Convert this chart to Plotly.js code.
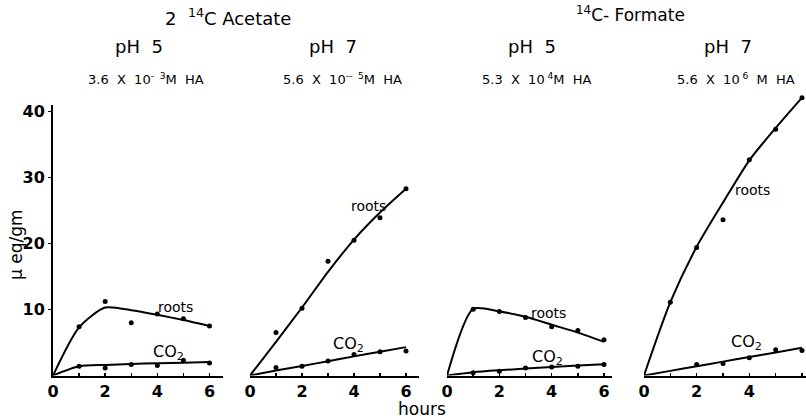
<!DOCTYPE html>
<html>
<head>
<meta charset="utf-8">
<script src="https://cdn.plot.ly/plotly-3.0.1.min.js"></script>
<style>html,body{margin:0;padding:0;background:#fff;}#chart{width:806px;height:419px;}</style>
</head>
<body>
<div id="chart"></div>
<script>
// ---- data ----
const hours = [0, 1, 2, 3, 4, 5, 6];
const obsHours = [1, 2, 3, 4, 5, 6];

// Panel 1: 2-14C Acetate, pH 5
const p1RootsObs = [7.4, 11.2, 8.0, 9.3, 8.6, 7.5];
const p1RootsFit = [0, 7.3, 10.3, 9.9, 9.2, 8.4, 7.5];
const p1CO2Obs = [1.4, 1.15, 1.65, 1.5, 2.3, 1.9];
const p1CO2Fit = [0, 1.4, 1.6, 1.75, 1.85, 1.95, 2.05];

// Panel 2: Acetate, pH 7
const p2RootsObs = [6.5, 10.2, 17.3, 20.5, 23.9, 28.3];
const p2RootsFit = [0, 5.1, 10.3, 15.7, 20.6, 24.7, 28.3];
const p2CO2Obs = [1.2, 1.4, 2.2, 3.2, 3.6, 3.7];
const p2CO2Fit = [0, 0.75, 1.45, 2.15, 2.9, 3.6, 4.3];

// Panel 3: 14C-Formate, pH 5
const p3RootsObs = [10.05, 9.7, 8.8, 7.4, 6.8, 5.4];
const p3RootsFit = [0, 10.1, 9.7, 8.9, 7.7, 6.5, 5.1];
const p3CO2Obs = [0.4, 0.65, 1.15, 1.3, 1.4, 1.65];
const p3CO2Fit = [0, 0.5, 0.8, 1.05, 1.3, 1.5, 1.7];

// Panel 4: Formate, pH 7
const p4RootsObs = [11.1, 19.4, 23.6, 32.7, 37.3, 42.1];
const p4RootsFit = [0, 11.1, 19.5, 26.2, 32.6, 37.5, 42.1];
const p4CO2Hours = [2, 3, 4, 5, 6];
const p4CO2Obs = [1.65, 1.8, 2.7, 3.9, 3.8];
const p4CO2Fit = [0, 0.7, 1.4, 2.1, 2.8, 3.5, 4.2];

const xTickVals = [0, 1, 2, 3, 4, 5, 6];
const xTickText = ['0', '', '2', '', '4', '', '6'];
const yTickVals = [10, 20, 30, 40];

const panelTitles = ['pH  5', 'pH  7', 'pH  5', 'pH  7'];
const panelSubs = ['3.6  X  10<sup>-  3</sup>M  HA', '5.6  X  10<sup>--  5</sup>M  HA',
                   '5.3  X  10<sup> 4</sup>M  HA', '5.6  X  10<sup> 6</sup>  M  HA'];
const groupTitles = ['2  <sup>14</sup>C Acetate', '<sup>14</sup>C- Formate'];

// ---- layout geometry ----
const W = 806, H = 419;
const FONT = '"DejaVu Sans", sans-serif';
const panels = [
  {x0: 53, x1: 223, six: 209.5},
  {x0: 250, x1: 419, six: 406},
  {x0: 447, x1: 612, six: 604},
  {x0: 644, x1: 806, six: 802}
];
const yZeroPx = 375.5, pxPerUnit = 6.6;

const series = [
  [p1RootsObs, p1RootsFit, obsHours, p1CO2Obs, p1CO2Fit],
  [p2RootsObs, p2RootsFit, obsHours, p2CO2Obs, p2CO2Fit],
  [p3RootsObs, p3RootsFit, obsHours, p3CO2Obs, p3CO2Fit],
  [p4RootsObs, p4RootsFit, p4CO2Hours, p4CO2Obs, p4CO2Fit]
];

const traces = [];
const layout = {
  width: W, height: H,
  margin: {l: 0, r: 0, t: 0, b: 0},
  paper_bgcolor: '#fff', plot_bgcolor: 'rgba(0,0,0,0)',
  showlegend: false,
  font: {family: FONT, color: '#000'},
  annotations: [],
  shapes: []
};

series.forEach((s, i) => {
  const n = i + 1;
  const xa = n === 1 ? 'x' : 'x' + n;
  const ya = n === 1 ? 'y' : 'y' + n;
  const p = panels[i];
  const pxPerHour = (p.six - p.x0) / 6;
  const xRange = [0, (p.x1 - p.x0) / pxPerHour];
  const yMax = n === 1 ? 41 : 43.5;
  const yTopPx = yZeroPx - yMax * pxPerUnit;

  layout['xaxis' + (n === 1 ? '' : n)] = {
    domain: [p.x0 / W, p.x1 / W], range: xRange, anchor: ya,
    showline: true, linewidth: 2, linecolor: '#000',
    showgrid: false, zeroline: false,
    ticks: 'inside', ticklen: 3, tickwidth: 1.5, tickcolor: '#000',
    tickvals: xTickVals, ticktext: xTickText,
    tickfont: {family: FONT, size: 16, color: '#000', weight: 'bold'}, fixedrange: true
  };
  layout['yaxis' + (n === 1 ? '' : n)] = {
    domain: [(H - yZeroPx) / H, (H - yTopPx) / H], range: [0, yMax], anchor: xa,
    showline: n === 1, linewidth: 2, linecolor: '#000',
    showgrid: false, zeroline: false,
    showticklabels: n === 1,
    ticks: n === 1 ? 'outside' : '', ticklen: 3, tickwidth: 1.5, tickcolor: '#000',
    tickvals: yTickVals,
    tickfont: {family: FONT, size: 16, color: '#000', weight: 'bold'}, fixedrange: true
  };

  const lineStyle = {color: '#000', width: 2, shape: 'spline', smoothing: 0.7};
  traces.push({x: hours, y: s[1], xaxis: xa, yaxis: ya, mode: 'lines', line: lineStyle, hoverinfo: 'skip'});
  traces.push({x: hours, y: s[4], xaxis: xa, yaxis: ya, mode: 'lines', line: lineStyle, hoverinfo: 'skip'});
  traces.push({x: obsHours, y: s[0], xaxis: xa, yaxis: ya, mode: 'markers', cliponaxis: false,
               marker: {color: '#000', size: 5}});
  traces.push({x: s[2], y: s[3], xaxis: xa, yaxis: ya, mode: 'markers', cliponaxis: false,
               marker: {color: '#000', size: 5}});
});

function ann(text, px, py, size, extra) {
  return Object.assign({
    text: text, xref: 'paper', yref: 'paper', x: px / W, y: 1 - py / H,
    xanchor: 'center', yanchor: 'middle', showarrow: false,
    font: {family: FONT, size: size, color: '#000'}
  }, extra || {});
}

// group titles
layout.annotations.push(ann(groupTitles[0], 228, 17, 18));
layout.annotations.push(ann(groupTitles[1], 630, 14, 17));
// panel titles
const titleX = [139, 333, 532, 728];
const subX = [146, 342, 537, 736];
panelTitles.forEach((t, i) => layout.annotations.push(ann(t, titleX[i], 46, 18)));
panelSubs.forEach((t, i) => layout.annotations.push(ann(t, subX[i], 79, 13)));
// series labels
const rootsPos = [[175, 307], [368, 206], [548, 313], [752, 190]];
const co2Pos = [[168, 352], [348, 344], [547, 357], [746, 342]];
rootsPos.forEach(p => layout.annotations.push(ann('roots', p[0], p[1], 14)));
co2Pos.forEach(p => layout.annotations.push(ann('CO<sub>2</sub>', p[0], p[1], 16)));
// axis titles
layout.annotations.push(ann('μ eq/gm', 16, 245, 17, {textangle: -90}));
layout.annotations.push(ann('hours', 422, 409, 17));

Plotly.newPlot('chart', traces, layout, {displayModeBar: false, staticPlot: true});
</script>
</body>
</html>
